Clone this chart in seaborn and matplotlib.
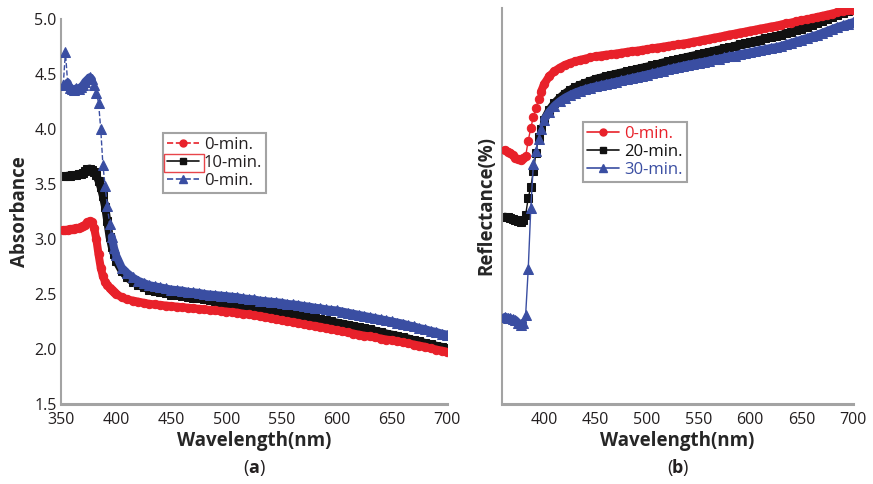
import numpy as np
import pandas as pd
import matplotlib.pyplot as plt
import matplotlib.transforms as mtransforms
import seaborn as sns
from matplotlib.lines import Line2D
from matplotlib.patches import Rectangle

# (a) absorbance spectra
wl_a = list(range(352, 401, 2)) + list(range(405, 701, 5))
abs_0min = [3.08, 3.08, 3.085, 3.09, 3.09, 3.095, 3.10, 3.10, 3.11, 3.12, 3.13, 3.15, 3.16,
            3.15, 3.10, 3.00, 2.86, 2.74, 2.66, 2.61, 2.58, 2.555, 2.535, 2.515, 2.50,
            2.47, 2.45, 2.44, 2.43, 2.42, 2.41, 2.405, 2.40, 2.395, 2.39,
            2.385, 2.38, 2.375, 2.37, 2.365, 2.36, 2.355, 2.35, 2.345, 2.34,
            2.335, 2.33, 2.32, 2.315, 2.305, 2.30, 2.29, 2.28, 2.27, 2.26,
            2.25, 2.245, 2.235, 2.225, 2.215, 2.21, 2.20, 2.19, 2.18, 2.17,
            2.16, 2.15, 2.14, 2.13, 2.12, 2.115, 2.105, 2.095, 2.085, 2.08,
            2.07, 2.06, 2.05, 2.04, 2.03, 2.02, 2.005, 1.995, 1.985, 1.975]
abs_10min = [3.57, 3.57, 3.575, 3.575, 3.58, 3.58, 3.585, 3.59, 3.595, 3.60, 3.62, 3.635, 3.64,
             3.63, 3.61, 3.58, 3.53, 3.47, 3.39, 3.29, 3.16, 3.02, 2.93, 2.86, 2.80,
             2.71, 2.65, 2.61, 2.58, 2.56, 2.54, 2.525, 2.515, 2.505, 2.495,
             2.49, 2.48, 2.475, 2.465, 2.46, 2.45, 2.445, 2.435, 2.43, 2.42,
             2.415, 2.405, 2.40, 2.39, 2.38, 2.375, 2.365, 2.355, 2.35, 2.34,
             2.33, 2.32, 2.31, 2.30, 2.29, 2.28, 2.27, 2.26, 2.25, 2.24,
             2.23, 2.22, 2.21, 2.20, 2.19, 2.18, 2.165, 2.155, 2.14, 2.13,
             2.12, 2.105, 2.095, 2.08, 2.07, 2.055, 2.045, 2.03, 2.02, 2.005]
abs_0min_b = [4.40, 4.70, 4.42, 4.37, 4.36, 4.35, 4.37, 4.36, 4.38, 4.40, 4.43, 4.45, 4.47,
              4.45, 4.40, 4.33, 4.24, 4.00, 3.67, 3.48, 3.30, 3.14, 3.02, 2.92, 2.85,
              2.74, 2.69, 2.65, 2.62, 2.60, 2.58, 2.57, 2.56, 2.55, 2.54,
              2.535, 2.53, 2.52, 2.515, 2.51, 2.50, 2.495, 2.49, 2.485, 2.48,
              2.475, 2.47, 2.46, 2.455, 2.45, 2.44, 2.435, 2.43, 2.425, 2.42,
              2.41, 2.405, 2.40, 2.39, 2.385, 2.375, 2.37, 2.36, 2.355, 2.35,
              2.34, 2.33, 2.32, 2.31, 2.30, 2.29, 2.28, 2.27, 2.26, 2.25,
              2.24, 2.23, 2.215, 2.205, 2.19, 2.18, 2.165, 2.155, 2.14, 2.13]

# (b) reflectance spectra
wl_b = [362, 364.5, 367, 369.5, 372, 374.5, 377, 379.5, 382, 384.5, 387, 389.5,
        392, 394.5, 397, 400] + list(range(405, 701, 5))
ref_0min = [64.1, 63.7, 63.4, 62.8, 62.1, 61.8, 61.6, 62.0, 62.6, 66.5, 69.7, 72.5,
            74.8, 77.0, 78.9, 80.8,
            82.8, 84.0, 84.9, 85.6, 86.1, 86.5, 86.9, 87.2, 87.5, 87.8,
            88.0, 88.2, 88.3, 88.5, 88.7, 88.9, 89.1, 89.2, 89.4, 89.6,
            89.8, 90.0, 90.2, 90.4, 90.6, 90.8, 91.0, 91.2, 91.5, 91.7,
            92.0, 92.2, 92.5, 92.7, 93.0, 93.3, 93.5, 93.8, 94.0, 94.3,
            94.5, 94.8, 95.0, 95.3, 95.5, 95.8, 96.1, 96.3, 96.6, 96.9,
            97.1, 97.4, 97.7, 98.0, 98.3, 98.6, 98.9, 99.2, 99.4, 99.6]
ref_20min = [47.3, 47.1, 46.9, 46.7, 46.5, 46.2, 46.0, 46.5, 47.8, 52.0, 54.8, 58.8,
             63.3, 67.5, 69.5, 71.8,
             74.3, 76.0, 77.3, 78.4, 79.3, 80.0, 80.6, 81.1, 81.6, 82.1,
             82.4, 82.8, 83.1, 83.4, 83.7, 84.0, 84.3, 84.6, 84.9, 85.2,
             85.5, 85.8, 86.2, 86.5, 86.8, 87.1, 87.4, 87.7, 88.0, 88.3,
             88.6, 88.9, 89.2, 89.5, 89.8, 90.1, 90.4, 90.8, 91.1, 91.4,
             91.7, 92.0, 92.3, 92.6, 92.9, 93.2, 93.6, 94.0, 94.4, 94.8,
             95.3, 95.8, 96.3, 96.8, 97.3, 97.8, 98.3, 98.8, 99.2, 99.6]
ref_30min = [22.0, 21.8, 21.6, 21.4, 21.2, 20.5, 19.9, 20.5, 22.5, 34.0, 49.5, 60.5,
             64.0, 67.0, 69.5, 71.8,
             73.8, 75.3, 76.4, 77.3, 78.0, 78.6, 79.1, 79.5, 79.9, 80.2,
             80.5, 80.8, 81.1, 81.4, 81.7, 82.0, 82.3, 82.6, 82.9, 83.2,
             83.5, 83.8, 84.2, 84.5, 84.8, 85.1, 85.4, 85.7, 85.9, 86.2,
             86.4, 86.7, 87.0, 87.2, 87.5, 87.8, 88.0, 88.3, 88.6, 88.8,
             89.1, 89.4, 89.6, 89.9, 90.1, 90.4, 90.8, 91.2, 91.6, 92.0,
             92.4, 92.8, 93.2, 93.7, 94.2, 94.7, 95.2, 95.6, 96.0, 96.4]

red, black, blue = '#e8212a', '#111111', '#3a4ea2'
spine_gray = '#a3a3a3'

sns.set_style('white')
plt.rcParams['font.family'] = ['Open Sans', 'DejaVu Sans']
plt.rcParams['text.color'] = '#231f20'

fig = plt.figure(figsize=(8.73, 4.84), dpi=100)
ax1 = fig.add_axes([0.0699, 0.1653, 0.4422, 0.7955])
ax2 = fig.add_axes([0.575, 0.1653, 0.402, 0.8182])


def series(ax, x, y, color, marker, ms, ls, z, gaps=()):
    # dense spectra read as a thick band; steep parts show the single points
    sns.lineplot(x=x, y=y, ax=ax, color=color, marker=marker, markersize=ms,
                 markeredgecolor=color, linewidth=1, linestyle=ls, zorder=z)
    x = np.asarray(x, dtype=float)
    y = np.asarray(y, dtype=float)
    edges = [-np.inf] + [v for g in gaps for v in g] + [np.inf]
    for lo, hi in zip(edges[::2], edges[1::2]):
        m = (x >= lo) & (x <= hi)
        if m.sum() > 1:
            sns.lineplot(x=x[m], y=y[m], ax=ax, color=color, linewidth=5.8,
                         solid_capstyle='round', zorder=z)


# panel (a)
series(ax1, wl_a, abs_10min, black, 's', 5.5, '-', 2)
series(ax1, wl_a, abs_0min, red, 'o', 6, '--', 3)
series(ax1, wl_a, abs_0min_b, blue, '^', 6.5, '--', 4, gaps=[(352, 356), (378, 396)])
ax1.set_xlim(350, 700)
ax1.set_ylim(1.5, 5.0)
ax1.set_xticks(range(350, 701, 50))
ax1.set_yticks(np.arange(1.5, 5.01, 0.5))
ax1.yaxis.set_major_formatter(plt.FormatStrFormatter('%.1f'))
ax1.set_xlabel('Wavelength(nm)', fontsize=13.5, fontweight='bold', labelpad=2)
ax1.set_ylabel('Absorbance', fontsize=13.5, fontweight='bold', labelpad=3)

h_a = [Line2D([], [], color=red, ls='--', marker='o', ms=5, lw=1.2),
       Line2D([], [], color=black, marker='s', ms=5, lw=1.2),
       Line2D([], [], color=blue, ls='--', marker='^', ms=6, lw=1.2)]
leg_a = ax1.legend(h_a, ['0-min.', '10-min.', '0-min.'], loc='upper left',
                   bbox_to_anchor=(0.264, 0.704), fancybox=False, edgecolor='#8c8c8c',
                   fontsize=12, handlelength=1.9, handletextpad=0.3, labelspacing=0.12,
                   borderpad=0.25, borderaxespad=0)
leg_a.get_frame().set_linewidth(1.5)

# panel (b)
series(ax2, wl_b, ref_20min, black, 's', 5.5, '-', 2, gaps=[(379.5, 400)])
series(ax2, wl_b, ref_0min, red, 'o', 6, '-', 3, gaps=[(379.5, 397)])
series(ax2, wl_b, ref_30min, blue, '^', 6.5, '-', 4, gaps=[(379.5, 400)])
ax2.set_xlim(359, 700)
ax2.set_ylim(0, 100)
ax2.set_xticks(range(400, 701, 50))
ax2.set_yticks([])
ax2.set_xlabel('Wavelength(nm)', fontsize=13.5, fontweight='bold', labelpad=2)
ax2.set_ylabel('Reflectance(%)', fontsize=13.5, fontweight='bold', labelpad=4)

h_b = [Line2D([], [], color=red, marker='o', ms=5, lw=1.2),
       Line2D([], [], color=black, marker='s', ms=5, lw=1.2),
       Line2D([], [], color=blue, marker='^', ms=6, lw=1.2)]
leg_b = ax2.legend(h_b, ['0-min.', '20-min.', '30-min.'], loc='upper left',
                   bbox_to_anchor=(0.231, 0.712), fancybox=False, edgecolor='#8c8c8c',
                   fontsize=12, handlelength=1.9, handletextpad=0.3, labelspacing=0.12,
                   borderpad=0.25, borderaxespad=0)
leg_b.get_frame().set_linewidth(1.5)
for txt, c in zip(leg_b.get_texts(), [red, black, blue]):
    txt.set_color(c)

for ax in (ax1, ax2):
    sns.despine(ax=ax)
    ax.spines['left'].set_color(spine_gray)
    ax.spines['bottom'].set_color(spine_gray)
    ax.spines['left'].set_linewidth(1.5)
    ax.spines['bottom'].set_linewidth(2.2)
    ax.tick_params(length=0, labelsize=11.5, colors='#231f20')
    ax.tick_params(axis='x', pad=6)
    ax.tick_params(axis='y', pad=3)

# sub-captions (a), (b)
for ax, letter in ((ax1, 'a'), (ax2, 'b')):
    cx = (ax.get_position().x0 + ax.get_position().x1) / 2
    fig.text(cx, 0.022, letter, ha='center', va='baseline', fontsize=13, fontweight='bold')
    fig.text(cx, 0.022, '(', ha='right', va='baseline', fontsize=13,
             transform=mtransforms.offset_copy(fig.transFigure, fig=fig, x=-5, y=0, units='dots'))
    fig.text(cx, 0.022, ')', ha='left', va='baseline', fontsize=13,
             transform=mtransforms.offset_copy(fig.transFigure, fig=fig, x=5, y=0, units='dots'))

# thin red box drawn round the second legend handle of panel (a)
fig.canvas.draw()
inv = fig.transFigure.inverted()
fr = leg_a.get_frame().get_window_extent()
tb = leg_a.get_texts()[1].get_window_extent()
hb = leg_a.legend_handles[1].get_window_extent()
(x0, y0), (x1, y1) = inv.transform([(fr.x0 + 1, tb.y0 - 1), (hb.x1 + 2, tb.y1 + 1)])
fig.add_artist(Rectangle((x0, y0), x1 - x0, y1 - y0, transform=fig.transFigure,
                         fill=False, edgecolor='#e8454a', lw=1))

fig.savefig('out.png', dpi=100)
